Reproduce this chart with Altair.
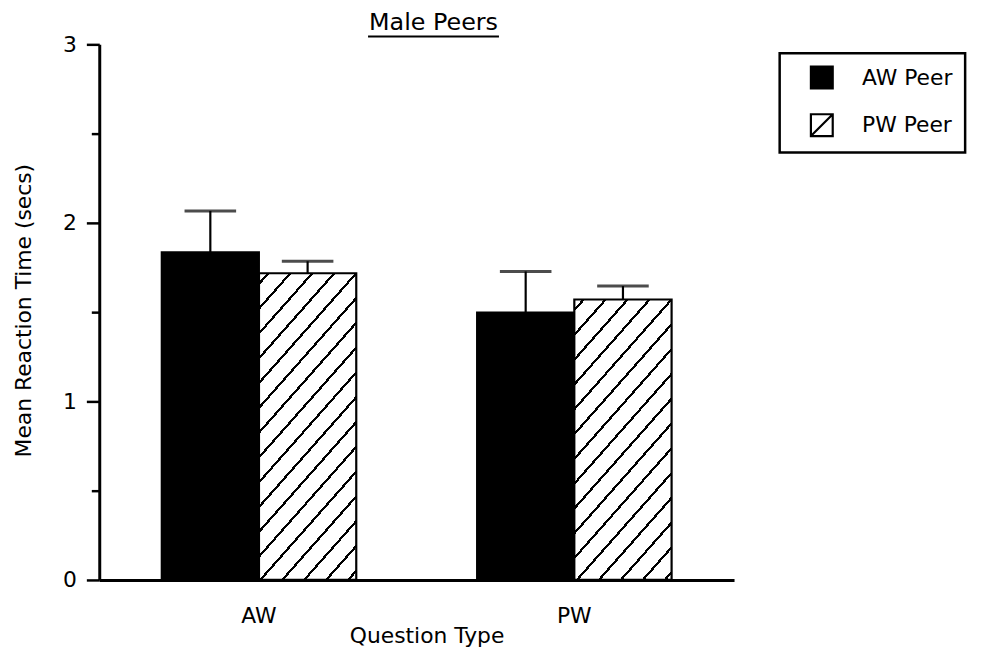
import altair as alt
import pandas as pd

# ---- data ----
question = ["AW", "AW", "PW", "PW"]
peer = ["AW Peer", "PW Peer", "AW Peer", "PW Peer"]
mean_rt = [1.835, 1.718, 1.498, 1.571]
err_up = [0.232, 0.067, 0.230, 0.075]
peer_order = ["AW Peer", "PW Peer"]
question_order = ["AW", "PW"]
title_text = ["Male Peers"]
y_ticks = [0, 0.5, 1, 1.5, 2, 2.5, 3]

df = pd.DataFrame({"question": question, "peer": peer, "mean": mean_rt, "err": err_up})
df["top"] = df["mean"] + df["err"]

W, H = 640, 540
YMAX = 3
FONT = "DejaVu Sans"
FS = 22
BAR_W = 98.0


def hatch(h, w=BAR_W, s=1.13, period=25.0, thick=3.4, phase=9.0):
    """Diagonal stripe fill built as a hard-stop linear gradient."""
    L = s * w + h
    k = L / (s * s * w * w + h * h)
    a, b = s * w * k, h * k
    GS = alt.GradientStop
    stops = [GS(offset=0, color="white")]
    c = phase
    while c < L:
        t0 = c / L
        t1 = min((c + thick) / L, 1.0)
        stops += [GS(offset=t0, color="white"), GS(offset=t0, color="black"),
                  GS(offset=t1, color="black"), GS(offset=t1, color="white")]
        c += period
    stops.append(GS(offset=1, color="white"))
    return alt.Gradient(gradient="linear", x1=0, y1=0, x2=a, y2=b, stops=stops)


x_axis = alt.Axis(
    title="Question Type", ticks=False, labelPadding=26, labelAngle=0,
    labelFont=FONT, labelFontSize=FS, labelColor="black",
    titleFont=FONT, titleFontSize=FS, titleFontWeight="normal", titleColor="black",
    titleX=330, titleY=46, titleBaseline="top", titleAlign="center",
    domainColor="black", domainWidth=3, grid=False,
)
y_axis = alt.Axis(
    title="Mean Reaction Time (secs)", values=y_ticks,
    labelExpr="datum.value % 1 === 0 ? format(datum.value, 'd') : ''",
    tickSize={"condition": {"test": "datum.value % 1 === 0", "value": 13}, "value": 8},
    tickColor="black", tickWidth=2.5, labelPadding=10,
    labelFont=FONT, labelFontSize=FS, labelColor="black",
    titleFont=FONT, titleFontSize=FS, titleFontWeight="normal", titleColor="black",
    titleX=-76, titleY=268, titleBaseline="middle", titleAlign="center", titleAngle=270,
    domainColor="black", domainWidth=3, grid=False,
)

X = alt.X("question:N", sort=question_order,
          scale=alt.Scale(domain=question_order, paddingInner=0.383, paddingOuter=0.198),
          axis=x_axis)
XO = alt.XOffset("peer:N", sort=peer_order,
                 scale=alt.Scale(domain=peer_order, paddingInner=0, paddingOuter=0))
yscale = alt.Scale(domain=[0, YMAX], nice=False, zero=True)

base = alt.Chart(df)

black_bars = base.transform_filter(alt.datum.peer == "AW Peer").mark_bar(
    fill="black", stroke="black", strokeWidth=2
).encode(x=X, xOffset=XO, y=alt.Y("mean:Q", scale=yscale, axis=y_axis))

hatched_layers = []
for q in question_order:
    v = float(df[(df.question == q) & (df.peer == "PW Peer")]["mean"].iloc[0])
    h = v / YMAX * H
    hatched_layers.append(
        base.transform_filter((alt.datum.peer == "PW Peer") & (alt.datum.question == q))
        .mark_bar(fill=hatch(h), stroke="black", strokeWidth=2.2)
        .encode(x=X, xOffset=XO, y=alt.Y("mean:Q", scale=yscale, axis=y_axis))
    )

err_rule = base.mark_rule(color="black", strokeWidth=2.2).encode(
    x=X, xOffset=XO,
    y=alt.Y("mean:Q", scale=yscale, axis=y_axis), y2="top:Q",
)
err_cap = base.mark_tick(color="black", thickness=3, size=52, orient="horizontal").encode(
    x=X, xOffset=XO, y=alt.Y("top:Q", scale=yscale, axis=y_axis),
)

legend_layer = base.transform_filter("false").mark_point(
    filled=True, stroke="black", strokeWidth=2, opacity=1
).encode(
    fill=alt.Fill("peer:N", scale=alt.Scale(domain=peer_order, range=["black", "white"]),
                  legend=alt.Legend(title=None)),
    stroke=alt.Stroke("peer:N", scale=alt.Scale(domain=peer_order, range=["black", "black"]),
                      legend=alt.Legend(title=None)),
    shape=alt.Shape("peer:N", scale=alt.Scale(domain=peer_order,
                                              range=["square", "M-1,-1H1V1H-1ZM-1,1L1,-1"]),
                    legend=alt.Legend(title=None)),
)

title_df = pd.DataFrame({"t": title_text})
title_mark = alt.Chart(title_df).mark_text(
    font=FONT, fontSize=24, color="black", baseline="alphabetic", align="center"
).encode(text="t:N", x=alt.value(337), y=alt.value(-14))
underline = alt.Chart(title_df).mark_rule(color="black", strokeWidth=2).encode(
    x=alt.value(271), x2=alt.value(403), y=alt.value(-8)
)

chart = alt.layer(
    black_bars, *hatched_layers, err_rule, err_cap, legend_layer, title_mark, underline
).properties(
    width=W, height=H,
    autosize=alt.AutoSizeParams(type="none"),
    padding={"left": 92, "top": 34, "right": 250, "bottom": 70},
).configure_view(stroke=None).configure_legend(
    orient="none", legendX=686, legendY=9, padding=12,
    symbolOffset=18, labelOffset=28, rowPadding=17,
    symbolSize=484, symbolStrokeWidth=2.2, symbolStrokeColor="black",
    labelFont=FONT, labelFontSize=FS, labelColor="black",
    strokeColor="black", strokeWidth=2.5,
)

chart.save("out.html", embed_options={"renderer": "svg", "actions": False})
